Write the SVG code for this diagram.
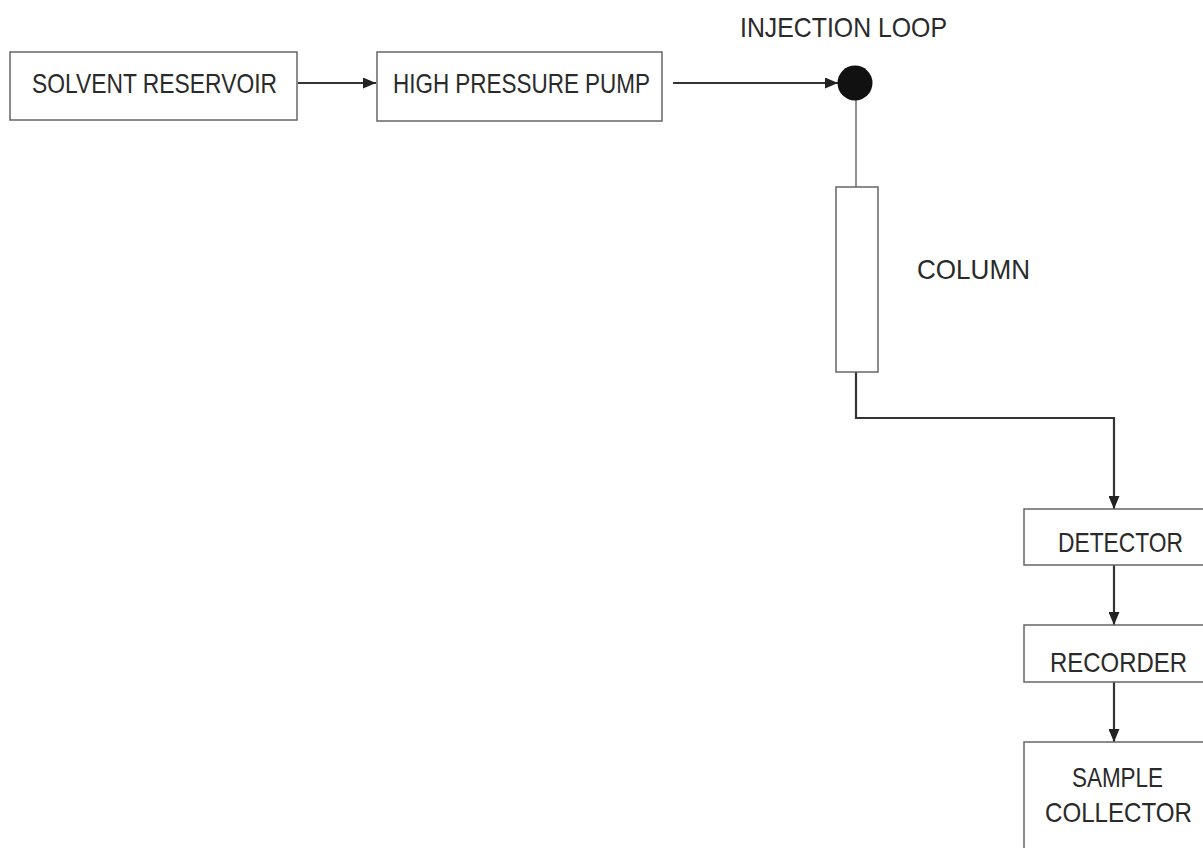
<svg xmlns="http://www.w3.org/2000/svg" width="1203" height="848" viewBox="0 0 1203 848">
<defs>
<style>
.box{fill:#fff;stroke:#666;stroke-width:1.5}
.open{fill:none;stroke:#666;stroke-width:1.5}
.lbl{font-family:"Liberation Sans",Arial,sans-serif;font-size:23px;fill:#2a2a2a}
.flow{fill:none;stroke:#333;stroke-width:2.2}
.thin{fill:none;stroke:#555;stroke-width:1.3}
</style>
<marker id="ah" viewBox="0 0 13 11" refX="13" refY="5.5" markerWidth="13" markerHeight="11" markerUnits="userSpaceOnUse" orient="auto">
<path d="M0,0 L13,5.5 L0,11 Z" fill="#222"/>
</marker>
</defs>
<rect width="1203" height="848" fill="#fff"/>
<g id="connectors">
<line class="flow" x1="298" y1="83" x2="376" y2="83" marker-end="url(#ah)"/>
<line class="flow" x1="673" y1="83" x2="838" y2="83" marker-end="url(#ah)"/>
<line class="thin" x1="856" y1="100" x2="856" y2="187"/>
<polyline class="flow" points="856,372 856,418 1114,418 1114,509" marker-end="url(#ah)"/>
<line class="flow" x1="1114" y1="565" x2="1114" y2="625" marker-end="url(#ah)"/>
<line class="flow" x1="1114" y1="682" x2="1114" y2="742" marker-end="url(#ah)"/>
</g>
<g id="solvent-reservoir">
<rect class="box" x="10" y="52" width="287" height="68"/>
<text class="lbl" transform="translate(32,93) scale(1,1.22)" textLength="245" lengthAdjust="spacingAndGlyphs">SOLVENT RESERVOIR</text>
</g>
<g id="high-pressure-pump">
<rect class="box" x="377" y="52" width="285" height="69"/>
<text class="lbl" transform="translate(393,93) scale(1,1.22)" textLength="257" lengthAdjust="spacingAndGlyphs">HIGH PRESSURE PUMP</text>
</g>
<g id="injection-loop">
<circle cx="855" cy="83" r="17.5" fill="#111"/>
<text class="lbl" transform="translate(740,37) scale(1,1.22)" textLength="207" lengthAdjust="spacingAndGlyphs">INJECTION LOOP</text>
</g>
<g id="column">
<rect class="box" x="836" y="187" width="42" height="185"/>
<text class="lbl" transform="translate(917,279) scale(1,1.22)" textLength="113" lengthAdjust="spacingAndGlyphs">COLUMN</text>
</g>
<g id="detector">
<path class="open" d="M1203,509 H1024 V565 H1203"/>
<text class="lbl" transform="translate(1058,552) scale(1,1.22)" textLength="125" lengthAdjust="spacingAndGlyphs">DETECTOR</text>
</g>
<g id="recorder">
<path class="open" d="M1203,625 H1024 V682 H1203"/>
<text class="lbl" transform="translate(1050,672) scale(1,1.22)" textLength="137" lengthAdjust="spacingAndGlyphs">RECORDER</text>
</g>
<g id="sample-collector">
<path class="open" d="M1203,742 H1024 V848"/>
<text class="lbl" transform="translate(1072,787) scale(1,1.22)" textLength="91" lengthAdjust="spacingAndGlyphs">SAMPLE</text>
<text class="lbl" transform="translate(1045,822) scale(1,1.22)" textLength="147" lengthAdjust="spacingAndGlyphs">COLLECTOR</text>
</g>
</svg>
